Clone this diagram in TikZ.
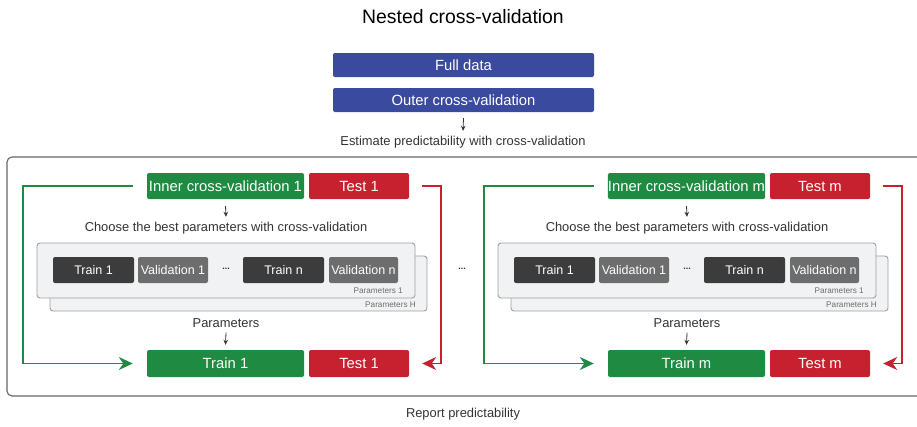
\documentclass[tikz,border=0pt]{standalone}
\usepackage{fontspec}
\setmainfont{Liberation Sans}
\usetikzlibrary{arrows.meta}
\definecolor{cblue}{HTML}{3A4A9E}
\definecolor{cgreen}{HTML}{1F8A42}
\definecolor{cred}{HTML}{C7202E}
\definecolor{cdark}{HTML}{3C3C3C}
\definecolor{cgray}{HTML}{6D6D6D}
\definecolor{cpanel}{HTML}{F1F2F4}
\definecolor{ctext}{HTML}{333333}
\tikzset{
  x=1pt, y=-1pt,
  box/.style={rounded corners=2pt, inner sep=0pt, text=white, font=\fontsize{14.8}{16}\selectfont},
  bluebox/.style={box, fill=cblue, minimum width=261pt, minimum height=24pt},
  greenbox/.style={box, fill=cgreen, minimum width=157pt, minimum height=26pt},
  redbox/.style={box, fill=cred, minimum width=100pt, minimum height=26pt},
  fold/.style={box, minimum height=26pt, font=\fontsize{12.5}{14}\selectfont},
  lbl/.style={text=ctext, inner sep=0pt, font=\fontsize{12.9}{14}\selectfont},
  small/.style={text=cgray, inner sep=0pt, font=\fontsize{8.2}{9}\selectfont},
  dotsl/.style={text=ctext, inner sep=0pt, font=\bfseries\fontsize{9}{10}\selectfont},
  garrow/.style={draw=ctext, line width=0.8pt, -{Stealth[length=5pt,width=4.5pt]}},
  gline/.style={draw=cgreen, line width=1.5pt, -{Stealth[length=14pt,width=13pt,inset=4.5pt]}},
  rline/.style={draw=cred, line width=1.5pt, -{Stealth[length=14pt,width=13pt,inset=4.5pt]}},
  panel/.style={draw=gray!75, line width=0.9pt, fill=cpanel, rounded corners=3pt},
}
\begin{document}
\begin{tikzpicture}
\useasboundingbox (0,0) rectangle (917,426);
\clip (0,0) rectangle (917,426);
\node[inner sep=0pt, font=\fontsize{19.4}{22}\selectfont] (title) at (463,17) {Nested cross-validation};
\node[bluebox] (full) at (463.5,65) {Full data};
\node[bluebox] (outer) at (463.5,100) {Outer cross-validation};
\node[lbl] (est) at (463,142) {Estimate predictability with cross-validation};
\draw[garrow] ([yshift=-6pt]outer.south) -- ([yshift=5pt]est.north);
\draw[draw=gray!80!black, line width=1.1pt, rounded corners=5pt] (7,157) rectangle (940,396);
\node[lbl] (report) at (463,414) {Report predictability};
\node[dotsl] (mid) at (462,269) {...};

\foreach \ox/\k/\s in {0/1/a, 461/m/b}{
  \begin{scope}[xshift=\ox pt]
    \node[greenbox] (inner\s) at (225.5,186) {Inner cross-validation \k};
    \node[redbox] (test\s) at (359,186) {Test \k};
    \node[lbl] (choose\s) at (226,228) {Choose the best parameters with cross-validation};
    \draw[garrow] ([yshift=-7pt]inner\s.south) -- ([yshift=5pt]choose\s.north);
    \draw[panel] (50,256) rectangle (427,311);
    \draw[panel] (37,243) rectangle (415,298);
    \node[fold, fill=cdark, minimum width=81pt] (tr1\s) at (93.5,270) {Train 1};
    \node[fold, fill=cgray, minimum width=70pt] (va1\s) at (173,270) {Validation 1};
    \node[dotsl] (dots\s) at (226,269) {...};
    \node[fold, fill=cdark, minimum width=81pt] (trn\s) at (283.5,270) {Train n};
    \node[fold, fill=cgray, minimum width=69pt] (van\s) at (363.5,270) {Validation n};
    \node[small, anchor=east] (p1\s) at (403,291) {Parameters 1};
    \node[small, anchor=east] (pH\s) at (416,305) {Parameters H};
    \node[lbl] (params\s) at (226,323) {Parameters};
    \node[greenbox, minimum height=27pt] (trainb\s) at (225.5,363.5) {Train \k};
    \node[redbox, minimum height=27pt] (testb\s) at (359,363.5) {Test \k};
    \draw[garrow] ([yshift=-5pt]params\s.south) -- ([yshift=5pt]trainb\s.north);
    \draw[gline] ([xshift=-14pt]inner\s.west) -- ++(-110,0) |- ([xshift=-14pt]trainb\s.west);
    \draw[rline] ([xshift=13pt]test\s.east) -- ++(19,0) |- ([xshift=13pt]testb\s.east);
  \end{scope}
}
\end{tikzpicture}
\end{document}
